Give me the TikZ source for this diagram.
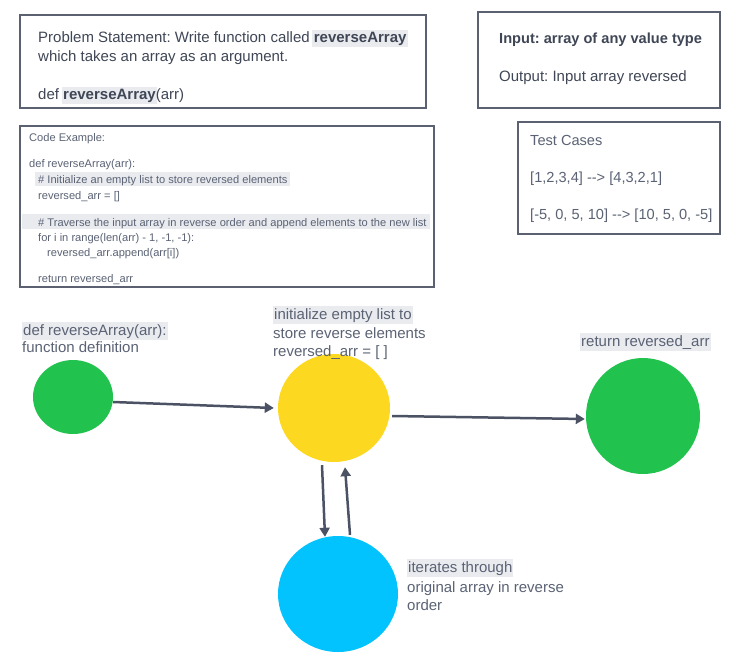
\documentclass[tikz,border=0pt]{standalone}
\usepackage{fontspec}
\setmainfont{Liberation Sans}
\usetikzlibrary{arrows.meta,shapes.geometric,calc}
\frenchspacing
\definecolor{txtc}{HTML}{3F4655}
\definecolor{softc}{HTML}{5A6274}
\definecolor{borderc}{HTML}{5B6170}
\definecolor{arrc}{HTML}{4B5264}
\definecolor{hlc}{HTML}{E9EBEF}
\definecolor{greenc}{HTML}{22C24F}
\definecolor{yellowc}{HTML}{FDD821}
\definecolor{bluec}{HTML}{03C3FF}
\newcommand\hlw[1]{{\setlength{\fboxsep}{1.5pt}\hspace{-1.5pt}\colorbox{hlc}{\textbf{#1}}\hspace{-1.5pt}}}
\tikzset{
  box/.style={draw=borderc, line width=2pt, fill=white},
  txt/.style={anchor=base west, inner sep=0pt, text=txtc, font=\fontsize{15}{18}\selectfont},
  soft/.style={txt, text=softc},
  code/.style={anchor=base west, inner sep=0pt, text=softc, font=\fontsize{11.1}{13}\selectfont},
  hl/.style={fill=hlc, inner xsep=1pt, inner ysep=2pt},
  blob/.style={ellipse, draw=none, inner sep=0pt},
  conn/.style={draw=arrc, line width=2.5pt, -{Triangle[length=9pt,width=10pt]}}
}
\begin{document}
\begin{tikzpicture}[x=1pt,y=-1pt]
\useasboundingbox (0,0) rectangle (752,667);
% boxes
\draw[box] (20,15) rectangle (426,108);
\draw[box] (478,12) rectangle (720,108);
\draw[box] (518,122) rectangle (720,234);
\draw[box] (20,126) rectangle (434,287);
% problem statement
\node[txt] (p1) at (38,42) {Problem Statement: Write function called \hlw{reverseArray}};
\node[txt] (p2) at (38,61) {which takes an array as an argument.};
\node[txt] (p3) at (38,99) {def \hlw{reverseArray}(arr)};
% input / output
\node[txt, font=\fontsize{14.6}{17}\selectfont\bfseries] (i1) at (499,43) {Input: array of any value type};
\node[txt] (i2) at (499,81) {Output: Input array reversed};
% test cases
\node[soft, font=\fontsize{14.6}{17}\selectfont] (t1) at (530,145) {Test Cases};
\node[soft, font=\fontsize{14.6}{17}\selectfont] (t2) at (530,182) {[1,2,3,4] -{}-> [4,3,2,1]};
\node[soft, font=\fontsize{14.6}{17}\selectfont] (t3) at (530,219) {[-5, 0, 5, 10] -{}-> [10, 5, 0, -5]};
% code example
\fill[hlc] (35,172) rectangle (290,186);
\fill[hlc] (22,214) rectangle (430,229);
\node[code] (c1) at (29,141) {Code Example:};
\node[code] (c2) at (29,167) {def reverseArray(arr):};
\node[code] (c3) at (38,183) {\# Initialize an empty list to store reversed elements};
\node[code] (c4) at (38,199) {reversed\_arr = []};
\node[code] (c5) at (38,226) {\# Traverse the input array in reverse order and append elements to the new list};
\node[code] (c6) at (38,241) {for i in range(len(arr) - 1, -1, -1):};
\node[code] (c7) at (47,256) {reversed\_arr.append(arr[i])};
\node[code] (c8) at (38,282) {return reversed\_arr};
% blobs
\node[blob, fill=greenc, minimum width=80pt, minimum height=74pt] (g1) at (73,397) {};
\node[blob, fill=yellowc, minimum width=112pt, minimum height=108pt] (y1) at (334,408) {};
\node[blob, fill=greenc, minimum width=114pt, minimum height=116pt] (g2) at (643,416) {};
\node[blob, fill=bluec, minimum width=120pt, minimum height=116pt] (b1) at (338,594) {};
% labels
\node[soft, hl] (l1) at (22,335) {def reverseArray(arr):};
\node[soft] (l2) at (22,352) {function definition};
\node[soft, hl] (l3) at (273,319) {initialize empty list to};
\node[soft] (l4) at (273,338) {store reverse elements};
\node[soft] (l5) at (273,356) {reversed\_arr = [ ]};
\node[soft, hl] (l6) at (580,346) {return reversed\_arr};
\node[soft, hl] (l7) at (407,572) {iterates through};
\node[soft] (l8) at (407,592) {original array in reverse};
\node[soft] (l9) at (407,610) {order};
% connectors
\draw[conn] ($(g1.east)+(0,5)$) -- ($(y1.west)+(-4,0)$);
\draw[conn] ($(y1.east)+(2,8)$) -- ($(g2.west)+(-1,3)$);
\draw[conn] ($(y1.south)+(-12,3)$) -- ($(b1.north)+(-13,1)$);
\draw[conn] ($(b1.north)+(12,-1)$) -- ($(y1.south)+(11,5)$);
\end{tikzpicture}
\end{document}
